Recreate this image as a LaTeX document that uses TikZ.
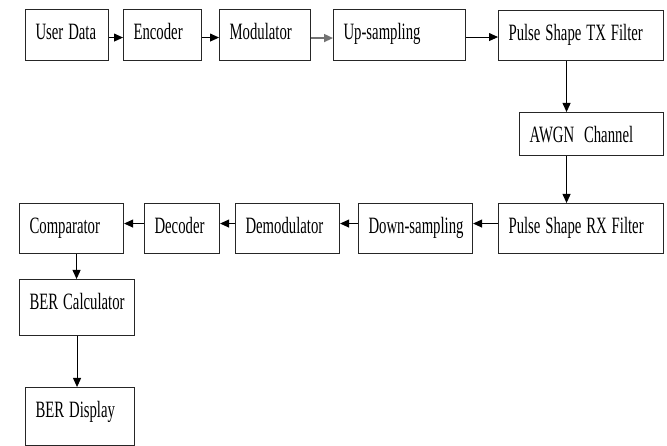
\documentclass[tikz,border=0pt]{standalone}
\usepackage{fontspec}
\usepackage{graphicx}
\usepackage{tikz}
\usetikzlibrary{arrows.meta}
\newfontfamily\blkfont{Liberation Serif}
\newcommand\blktext[1]{\scalebox{0.63}[1]{#1}}

\begin{document}
\begin{tikzpicture}[x=1pt,y=1pt,
  blk/.style={draw=black!85,line width=1.1pt,anchor=north west,align=left,
    inner xsep=10pt,inner ysep=0pt,text height=30pt,
    font=\blkfont\fontsize{23.4}{28}\selectfont},
  arr/.style={draw=black,line width=0.9pt,-{Triangle[length=9pt,width=8pt]}}]
\useasboundingbox (0,0) rectangle (667,446);
% transmitter row
\node[blk,text width=63pt,text depth=21pt] (ud) at (25,437) {\blktext{User Data}};
\node[blk,text width=58pt,text depth=21pt] (enc) at (123,437) {\blktext{Encoder}};
\node[blk,text width=71pt,text depth=21pt] (mod) at (219,437) {\blktext{Modulator}};
\node[blk,text width=112pt,text depth=21pt] (ups) at (333,437) {\blktext{Up-sampling}};
\node[blk,text width=145pt,text depth=20pt] (tx) at (498,436) {\blktext{Pulse Shape TX Filter}};
% channel
\node[blk,text width=124pt,text depth=13pt] (awgn) at (519,334) {\blktext{AWGN\ \ Channel}};
% receiver row
\node[blk,text width=145pt,text depth=20pt] (rx) at (498,243) {\blktext{Pulse Shape RX Filter}};
\node[blk,text width=94pt,text depth=20pt] (dns) at (358,243) {\blktext{Down-sampling}};
\node[blk,text width=84pt,text depth=20pt] (dem) at (235,243) {\blktext{Demodulator}};
\node[blk,text width=55pt,text depth=20pt] (dec) at (144,243) {\blktext{Decoder}};
\node[blk,text width=84pt,text depth=20pt] (cmp) at (19,243) {\blktext{Comparator}};
\node[blk,text width=95pt,text depth=26pt] (berc) at (19,167) {\blktext{BER Calculator}};
\node[blk,text width=89pt,text depth=28pt] (berd) at (25,59) {\blktext{BER Display}};
% connectors
\draw[arr] ([yshift=-2.5pt]ud.east) -- ([yshift=-2.5pt]enc.west);
\draw[arr] ([yshift=-2.5pt]enc.east) -- ([yshift=-2.5pt]mod.west);
\draw[arr,draw=black!55,line width=1.6pt] ([yshift=-3pt]mod.east) -- ([yshift=-3pt]ups.west);
\draw[arr] ([yshift=-2pt]ups.east) -- ([yshift=-2pt]ups.east -| tx.west);
\draw[arr] ([xshift=-14.5pt]tx.south) -- ([xshift=-14.5pt]tx.south |- awgn.north);
\draw[arr] ([xshift=-25pt]awgn.south) -- ([xshift=-25pt]awgn.south |- rx.north);
\draw[arr] ([yshift=5pt]rx.west) -- ([yshift=5pt]dns.east);
\draw[arr] ([yshift=5pt]dns.west) -- ([yshift=5pt]dem.east);
\draw[arr] ([yshift=5pt]dem.west) -- ([yshift=5pt]dec.east);
\draw[arr] ([yshift=5pt]dec.west) -- ([yshift=5pt]cmp.east);
\draw[arr] ([xshift=5pt]cmp.south) -- ([xshift=5pt]cmp.south |- berc.north);
\draw[arr] (berc.south) -- (berc.south |- berd.north);
\end{tikzpicture}
\end{document}
